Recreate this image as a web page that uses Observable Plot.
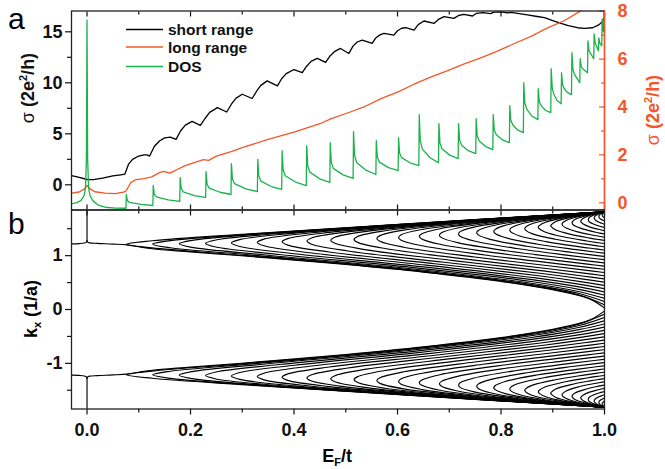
<!DOCTYPE html>
<html><head><meta charset="utf-8">
<script src="https://cdn.jsdelivr.net/npm/d3@7"></script>
<script src="https://cdn.jsdelivr.net/npm/@observablehq/plot@0.6"></script>
<style>
body{margin:0;background:#fff}
#wrap{position:relative;width:665px;height:469px;overflow:hidden;background:#fff}
#wrap svg{position:absolute;left:0}
</style></head><body><div id="wrap"></div>
<script>
// ---------- ticks ----------
const xMajor = [0, 0.2, 0.4, 0.6, 0.8, 1.0];
const xMinor = [0.1, 0.3, 0.5, 0.7, 0.9];
const sigmaMajor = [0, 5, 10, 15];
const sigmaMinor = [2.5, 7.5, 12.5];
const sigmaRightMajor = [0, 2, 4, 6, 8];
const sigmaRightMinor = [1, 3, 5, 7];
const kMajor = [-1, 0, 1];
const kMinor = [-1.5, -0.5, 0.5, 1.5];

// ---------- panel a series: [E_F/t, value] ----------
const shortRange = [[-0.03,0.91],[-0.015,0.72],[0,0.52],[0.012,0.5],[0.03,0.65],[0.05,0.88],[0.065,0.98],[0.073,1.04],
[0.08,2.0],[0.088,2.5],[0.098,2.78],[0.11,2.93],[0.116,2.93],[0.121,2.82],[0.13,3.75],[0.14,4.3],[0.15,4.6],[0.161,4.68],[0.172,4.45],
[0.181,5.3],[0.19,5.85],[0.203,6.22],[0.219,5.83],[0.228,6.5],[0.237,7.1],[0.252,7.57],[0.27,7.14],[0.279,7.9],[0.288,8.5],[0.3,8.88],[0.319,8.46],
[0.328,9.2],[0.336,9.75],[0.348,10.19],[0.368,9.7],[0.376,10.4],[0.385,10.9],[0.4,11.3],[0.416,11.0],[0.424,11.6],[0.433,12.1],[0.445,12.4],[0.461,12.0],
[0.469,12.6],[0.478,13.05],[0.49,13.37],[0.506,12.88],[0.514,13.6],[0.522,14.0],[0.532,14.19],[0.551,13.86],[0.558,14.4],[0.566,14.7],[0.574,14.85],[0.593,14.68],
[0.6,15.1],[0.608,15.35],[0.616,15.4],[0.632,15.17],[0.64,15.7],[0.651,16.06],[0.671,15.83],[0.68,16.25],[0.69,16.48],[0.709,16.32],[0.718,16.6],[0.728,16.7],[0.745,16.55],
[0.752,16.8],[0.765,16.88],[0.78,16.78],[0.786,16.93],[0.8,16.95],[0.812,16.85],[0.82,16.9],[0.835,16.78],[0.851,16.65],[0.87,16.5],[0.884,16.38],[0.9,16.1],[0.916,15.83],
[0.93,15.6],[0.948,15.4],[0.961,15.34],[0.977,15.4],[0.988,15.65],[0.996,15.99],[1.0,16.4]];

// long range, right-axis units
const longRange = [[-0.03,0.40],[-0.015,0.45],[-0.005,0.58],[0,0.72],[0.006,0.58],[0.015,0.46],[0.035,0.40],[0.055,0.38],[0.07,0.44],[0.075,0.48],
[0.085,0.85],[0.095,0.97],[0.11,1.01],[0.125,1.08],[0.14,1.26],[0.148,1.31],[0.16,1.24],[0.175,1.40],[0.19,1.55],[0.21,1.70],[0.225,1.80],[0.235,1.77],
[0.25,1.95],[0.28,2.15],[0.30,2.30],[0.35,2.65],[0.40,2.95],[0.45,3.30],[0.471,3.50],[0.51,3.80],[0.535,4.00],[0.568,4.35],[0.60,4.62],[0.632,4.95],
[0.664,5.25],[0.697,5.52],[0.729,5.80],[0.761,6.05],[0.793,6.33],[0.826,6.65],[0.858,6.95],[0.89,7.30],[0.922,7.60],[0.951,7.97],[0.975,8.4]];

// density of states, left-axis units
const dosCurve = [[-0.03,-1.88],[-0.02,-1.75],[-0.012,-1.55],[-0.006,-1.1],[-0.003,-0.3],[-0.0012,2.5],[0,16.15],[0.0012,2.5],[0.003,-0.3],[0.006,-1.1],[0.012,-1.6],[0.022,-2.0],[0.035,-2.2],[0.055,-2.28],[0.0752,-2.3],
[0.076,-0.95],[0.078,-1.54],[0.082,-1.73],[0.1046,-1.92],[0.1272,-2.03],
[0.128,-0.07],[0.13,-0.93],[0.134,-1.19],[0.1566,-1.47],[0.1792,-1.63],
[0.18,0.71],[0.182,-0.36],[0.186,-0.69],[0.2075,-1.05],[0.2292,-1.24],
[0.23,1.3],[0.232,0.06],[0.236,-0.32],[0.257,-0.73],[0.2782,-0.95],
[0.279,2.08],[0.281,0.57],[0.285,0.11],[0.307,-0.39],[0.3292,-0.66],
[0.33,2.48],[0.332,0.86],[0.336,0.36],[0.356,-0.17],[0.3762,-0.46],
[0.377,3.36],[0.379,1.47],[0.383,0.89],[0.403,0.27],[0.4237,-0.07],
[0.4245,3.85],[0.4265,1.86],[0.4305,1.24],[0.4495,0.59],[0.4692,0.23],
[0.47,4.14],[0.472,2.2],[0.476,1.61],[0.4948,0.97],[0.5142,0.62],
[0.515,5.22],[0.517,2.9],[0.521,2.19],[0.539,1.43],[0.5582,1.01],
[0.559,4.33],[0.561,2.72],[0.565,2.22],[0.5827,1.69],[0.6012,1.4],
[0.602,4.63],[0.604,3.12],[0.608,2.66],[0.624,2.16],[0.6412,1.89],
[0.642,6.88],[0.644,4.3],[0.648,3.5],[0.6629,2.65],[0.6792,2.18],
[0.68,6.0],[0.682,4.11],[0.686,3.53],[0.7009,2.91],[0.7172,2.57],
[0.718,6.0],[0.72,4.38],[0.724,3.88],[0.7367,3.35],[0.7512,3.06],
[0.752,6.49],[0.754,4.82],[0.758,4.3],[0.7702,3.75],[0.7842,3.45],
[0.785,6.88],[0.787,5.37],[0.791,4.91],[0.8026,4.41],[0.8162,4.14],
[0.817,7.76],[0.819,6.31],[0.823,5.86],[0.8319,5.38],[0.8432,5.12],
[0.844,10.01],[0.846,8.02],[0.85,7.4],[0.8594,6.75],[0.8712,6.39],
[0.872,9.42],[0.874,8.13],[0.878,7.74],[0.8858,7.31],[0.8962,7.08],
[0.897,11.38],[0.899,9.49],[0.902,8.91],[0.908,8.29],[0.9162,7.95],
[0.917,10.99],[0.919,9.81],[0.922,9.44],[0.928,9.06],[0.9362,8.84],
[0.937,12.95],[0.939,11.33],[0.942,10.83],[0.9522,10.01],
[0.953,12.36],[0.955,11.6],[0.958,11.37],[0.9672,10.99],
[0.968,14.12],[0.97,13.15],[0.9792,12.36],
[0.98,14.8],[0.982,13.9],[0.9882,13.14],
[0.989,14.4],[0.991,13.9],[0.9947,13.63],
[0.9955,16.27],[0.997,15.2],[0.9985,15.0],[0.9993,18.0],[1.0,18.0]];

// ---------- panel b: subbands k_x(E_F) (upper half, mirrored for k_x < 0) ----------
const edgeFlat = [[0,1.275],[0,1.848]];
const edgeLeft = [[-0.03,1.22],[-0.015,1.224],[-0.005,1.235],[-0.0012,1.252],[0,1.275]];
const edgeRight = [[0,1.275],[0.0012,1.252],[0.005,1.238],[0.02,1.228],[0.05,1.215],[0.077,1.2],[0.1,1.165],[0.126,1.128],[0.2,1.07],[0.35,0.958],[0.5,0.835],[0.65,0.694],[0.8,0.522],[0.9,0.368],[0.97,0.202],[1.0,0.028]];
const subbands = [
[[1,1.814],[0.603,1.582],[0.309,1.402],[0.126,1.277],[0.076,1.211],[0.126,1.144],[0.309,1.000],[0.603,0.747],[0.851,0.458],[0.950,0.273],[1,0.088]],
[[1,1.814],[0.609,1.583],[0.324,1.404],[0.161,1.279],[0.127,1.214],[0.161,1.147],[0.324,1.005],[0.609,0.755],[0.853,0.472],[0.951,0.297],[1,0.147]],
[[1,1.814],[0.617,1.585],[0.345,1.408],[0.203,1.284],[0.178,1.220],[0.203,1.153],[0.345,1.012],[0.617,0.767],[0.855,0.493],[0.952,0.330],[1,0.207]],
[[1,1.814],[0.627,1.588],[0.371,1.412],[0.249,1.290],[0.229,1.227],[0.249,1.161],[0.371,1.022],[0.627,0.782],[0.859,0.520],[0.953,0.370],[1,0.267]],
[[1,1.814],[0.640,1.591],[0.401,1.418],[0.295,1.298],[0.279,1.235],[0.295,1.171],[0.401,1.035],[0.640,0.801],[0.863,0.551],[0.954,0.415],[1,0.327]],
[[1,1.814],[0.655,1.594],[0.434,1.425],[0.342,1.307],[0.329,1.246],[0.342,1.183],[0.434,1.050],[0.655,0.824],[0.867,0.587],[0.956,0.462],[1,0.387]],
[[1,1.814],[0.672,1.599],[0.468,1.432],[0.388,1.317],[0.377,1.258],[0.388,1.196],[0.468,1.068],[0.672,0.850],[0.873,0.626],[0.957,0.513],[1,0.446]],
[[1,1.814],[0.690,1.604],[0.504,1.441],[0.434,1.329],[0.425,1.271],[0.434,1.212],[0.504,1.087],[0.690,0.878],[0.879,0.668],[0.959,0.565],[1,0.506]],
[[1,1.814],[0.708,1.609],[0.540,1.451],[0.479,1.342],[0.471,1.286],[0.479,1.229],[0.540,1.108],[0.708,0.909],[0.885,0.712],[0.961,0.618],[1,0.566]],
[[1,1.814],[0.728,1.615],[0.576,1.462],[0.523,1.357],[0.516,1.302],[0.523,1.247],[0.576,1.132],[0.728,0.941],[0.892,0.757],[0.964,0.672],[1,0.626]],
[[1,1.814],[0.749,1.621],[0.612,1.474],[0.566,1.372],[0.560,1.320],[0.566,1.267],[0.612,1.157],[0.749,0.976],[0.900,0.804],[0.966,0.727],[1,0.686]],
[[1,1.814],[0.769,1.628],[0.648,1.487],[0.607,1.389],[0.602,1.339],[0.607,1.288],[0.648,1.183],[0.769,1.013],[0.907,0.853],[0.968,0.782],[1,0.746]],
[[1,1.814],[0.790,1.636],[0.682,1.500],[0.647,1.407],[0.642,1.359],[0.647,1.311],[0.682,1.211],[0.790,1.051],[0.915,0.903],[0.971,0.839],[1,0.805]],
[[1,1.814],[0.810,1.644],[0.716,1.514],[0.685,1.426],[0.681,1.381],[0.685,1.335],[0.716,1.241],[0.810,1.091],[0.923,0.954],[0.974,0.895],[1,0.865]],
[[1,1.814],[0.831,1.653],[0.748,1.530],[0.721,1.446],[0.718,1.403],[0.721,1.360],[0.748,1.272],[0.831,1.132],[0.930,1.006],[0.976,0.952],[1,0.925]],
[[1,1.814],[0.850,1.661],[0.779,1.546],[0.756,1.467],[0.753,1.427],[0.756,1.386],[0.779,1.303],[0.850,1.174],[0.938,1.058],[0.979,1.010],[1,0.985]],
[[1,1.814],[0.869,1.671],[0.808,1.562],[0.789,1.488],[0.786,1.451],[0.789,1.413],[0.808,1.337],[0.869,1.217],[0.946,1.111],[0.981,1.067],[1,1.045]],
[[1,1.814],[0.887,1.680],[0.835,1.579],[0.819,1.511],[0.817,1.476],[0.819,1.441],[0.835,1.370],[0.887,1.260],[0.953,1.164],[0.984,1.125],[1,1.104]],
[[1,1.814],[0.905,1.690],[0.861,1.597],[0.848,1.534],[0.846,1.502],[0.848,1.470],[0.861,1.405],[0.905,1.305],[0.960,1.218],[0.986,1.182],[1,1.164]],
[[1,1.814],[0.920,1.701],[0.885,1.615],[0.874,1.558],[0.872,1.529],[0.874,1.499],[0.885,1.440],[0.920,1.350],[0.966,1.272],[0.988,1.240],[1,1.224]],
[[1,1.814],[0.935,1.711],[0.906,1.634],[0.898,1.582],[0.896,1.556],[0.898,1.529],[0.906,1.476],[0.935,1.395],[0.972,1.326],[0.990,1.298],[1,1.284]],
[[1,1.814],[0.948,1.722],[0.926,1.653],[0.919,1.607],[0.918,1.584],[0.919,1.560],[0.926,1.513],[0.948,1.441],[0.978,1.380],[0.992,1.356],[1,1.344]],
[[1,1.814],[0.961,1.733],[0.943,1.673],[0.938,1.632],[0.9375,1.612],[0.938,1.591],[0.943,1.550],[0.961,1.488],[0.983,1.435],[0.994,1.414],[1,1.403]],
[[1,1.814],[0.971,1.745],[0.959,1.693],[0.955,1.658],[0.954,1.641],[0.955,1.623],[0.959,1.588],[0.971,1.535],[0.988,1.490],[0.996,1.472],[1,1.463]],
[[1,1.814],[0.980,1.756],[0.971,1.713],[0.969,1.684],[0.9686,1.670],[0.969,1.655],[0.971,1.626],[0.980,1.583],[0.991,1.546],[0.997,1.531],[1,1.523]],
[[1,1.814],[0.9873,1.768],[0.9819,1.734],[0.9803,1.711],[0.9802,1.699],[0.9803,1.688],[0.9819,1.664],[0.9873,1.630],[0.9945,1.601],[0.9981,1.589],[1,1.583]],
[[1,1.814],[0.993,1.780],[0.9901,1.754],[0.9892,1.737],[0.9891,1.729],[0.9892,1.720],[0.9901,1.703],[0.993,1.677],[0.997,1.656],[0.9989,1.647],[1,1.643]],
[[1,1.814],[0.997,1.792],[0.9958,1.775],[0.9954,1.764],[0.9954,1.758],[0.9954,1.753],[0.9958,1.742],[0.997,1.725],[0.9987,1.711],[0.9995,1.705],[1,1.703]],
[[1,1.814],[0.9993,1.801],[0.9990,1.788],[0.9993,1.775],[1,1.762]]
];

// ---------- styles ----------
const GREEN = "#1cb24b", ORANGE = "#f4562a", INK = "#111";
const FONT = "'Liberation Sans', Arial, Helvetica, sans-serif";
// right axis (σ, orange) expressed in left-axis units: left = A + B*right
const RA = -1.761, RB = 2.348;
const toLeft = r => RA + RB * r;

const shortRows = shortRange.map(([E, v]) => ({E, v}));
const longRows = longRange.map(([E, r]) => ({E, v: toLeft(r)}));
const dosRows = dosCurve.map(([E, v]) => ({E, v}));

const bandRows = [];
const pushBand = (pts, id) => {
  pts.forEach(([E, k]) => bandRows.push({E, k, id: id + "u"}));
  pts.forEach(([E, k]) => bandRows.push({E, k: -k, id: id + "d"}));
};
pushBand(edgeFlat, "ef"); pushBand(edgeLeft, "el"); pushBand(edgeRight, "er");
subbands.forEach((b, i) => pushBand(b, "s" + i));

const style = {fontFamily: FONT, fontWeight: "bold", fontSize: "18px", color: INK, background: "transparent", overflow: "visible"};
const xDomain = [-0.03, 1.0];

const panelA = Plot.plot({
  width: 665, height: 210, marginLeft: 71, marginRight: 61, marginTop: 10.5, marginBottom: 0.5,
  style,
  x: {domain: xDomain, axis: null},
  y: {domain: [-2.47, 17.04], axis: null},
  marks: [
    Plot.line(shortRows, {x: "E", y: "v", stroke: "#000", strokeWidth: 1.3, clip: true}),
    Plot.line(longRows, {x: "E", y: "v", stroke: ORANGE, strokeWidth: 1.3, clip: true}),
    Plot.line(dosRows, {x: "E", y: "v", stroke: GREEN, strokeWidth: 1.3, clip: true}),
    Plot.axisY({anchor: "left", ticks: sigmaMajor, tickSize: 6, tickPadding: 3, tickFormat: d => String(d), label: null, strokeWidth: 1.2}),
    Plot.axisY({anchor: "left", ticks: sigmaMinor, tickSize: 4, tickFormat: () => "", label: null, strokeWidth: 1.2}),
    Plot.axisY({anchor: "right", ticks: sigmaRightMajor.map(toLeft), tickSize: -6, tickFormat: () => "", label: null, stroke: ORANGE, strokeWidth: 1.2}),
    Plot.axisY({anchor: "right", ticks: sigmaRightMinor.map(toLeft), tickSize: -4, tickFormat: () => "", label: null, stroke: ORANGE, strokeWidth: 1.2}),
    Plot.axisY({anchor: "right", ticks: sigmaRightMajor.map(toLeft), tickSize: 0, tickPadding: 13, tickFormat: v => String(Math.round((v - RA) / RB)), label: null, fill: ORANGE}),
    Plot.axisX({anchor: "top", ticks: xMajor, tickSize: -5, tickFormat: () => "", label: null, strokeWidth: 1.2}),
    Plot.axisX({anchor: "top", ticks: xMinor, tickSize: -3, tickFormat: () => "", label: null, strokeWidth: 1.2}),
    Plot.axisX({anchor: "bottom", ticks: xMajor, tickSize: -5, tickFormat: () => "", label: null, strokeWidth: 1.2}),
    Plot.axisX({anchor: "bottom", ticks: xMinor, tickSize: -3, tickFormat: () => "", label: null, strokeWidth: 1.2}),
    Plot.frame({stroke: "#222", strokeWidth: 1.3}),
    Plot.ruleX([1.0], {stroke: ORANGE, strokeWidth: 1.3})
  ]
});
panelA.style.top = "0px";

const panelB = Plot.plot({
  width: 665, height: 260, marginLeft: 71, marginRight: 61, marginTop: 0.5, marginBottom: 60.5,
  style,
  x: {domain: xDomain, axis: null},
  y: {domain: [-1.848, 1.848], axis: null},
  marks: [
    Plot.line(bandRows, {x: "E", y: "k", z: "id", stroke: "#000", strokeWidth: 1.15, curve: "catmull-rom", clip: true}),
    Plot.axisY({anchor: "left", ticks: kMajor, tickSize: 6, tickPadding: 3, tickFormat: d => String(d), label: null, strokeWidth: 1.2}),
    Plot.axisY({anchor: "left", ticks: kMinor, tickSize: 4, tickFormat: () => "", label: null, strokeWidth: 1.2}),
    Plot.axisX({anchor: "bottom", ticks: xMajor, tickSize: 6, tickPadding: 8, tickFormat: d3.format(".1f"), label: null, strokeWidth: 1.2}),
    Plot.axisX({anchor: "bottom", ticks: xMinor, tickSize: 4, tickFormat: () => "", label: null, strokeWidth: 1.2}),
    Plot.axisX({anchor: "top", ticks: xMajor, tickSize: -5, tickFormat: () => "", label: null, strokeWidth: 1.2}),
    Plot.axisX({anchor: "top", ticks: xMinor, tickSize: -3, tickFormat: () => "", label: null, strokeWidth: 1.2}),
    Plot.frame({stroke: "#222", strokeWidth: 1.3})
  ]
});
panelB.style.top = "209px";

const wrap = document.getElementById("wrap");
wrap.appendChild(panelA);
wrap.appendChild(panelB);

// ---------- titles, panel letters and legend ----------
const ov = d3.select(wrap).append("svg").attr("width", 665).attr("height", 469)
  .style("top", "0px").style("font-family", FONT).style("pointer-events", "none");
ov.append("text").attr("x", 8).attr("y", 29).attr("font-size", 30).text("a");
ov.append("text").attr("x", 8).attr("y", 234).attr("font-size", 30).text("b");

function sigmaTitle(x, y, color) {
  const t = ov.append("text").attr("transform", `translate(${x},${y}) rotate(-90)`)
    .attr("text-anchor", "middle").attr("font-size", 18).attr("font-weight", "bold").attr("fill", color);
  t.append("tspan").attr("font-weight", "normal").text("σ ");
  t.append("tspan").text("(2e");
  t.append("tspan").attr("font-size", 11).attr("dy", -7).text("2");
  t.append("tspan").attr("dy", 7).text("/h)");
}
sigmaTitle(34, 88, INK);
sigmaTitle(659, 110, ORANGE);

const kt = ov.append("text").attr("transform", "translate(37,309) rotate(-90)")
  .attr("text-anchor", "middle").attr("font-size", 18).attr("font-weight", "bold");
kt.append("tspan").text("k");
kt.append("tspan").attr("font-size", 11).attr("dy", 4).text("x");
kt.append("tspan").attr("dy", -4).text(" (1/a)");

const et = ov.append("text").attr("x", 337).attr("y", 462).attr("text-anchor", "middle")
  .attr("font-size", 18).attr("font-weight", "bold");
et.append("tspan").text("E");
et.append("tspan").attr("font-size", 11).attr("dy", 4).text("F");
et.append("tspan").attr("dy", -4).text("/t");

const legendItems = [["short range", "#000", 29.5], ["long range", ORANGE, 47], ["DOS", GREEN, 66.5]];
legendItems.forEach(([label, color, y]) => {
  ov.append("line").attr("x1", 126).attr("x2", 163).attr("y1", y).attr("y2", y)
    .attr("stroke", color).attr("stroke-width", 1.4);
  ov.append("text").attr("x", 168).attr("y", y + 5.5).attr("font-size", 15.5)
    .attr("font-weight", "bold").attr("fill", INK).text(label);
});
</script></body></html>
